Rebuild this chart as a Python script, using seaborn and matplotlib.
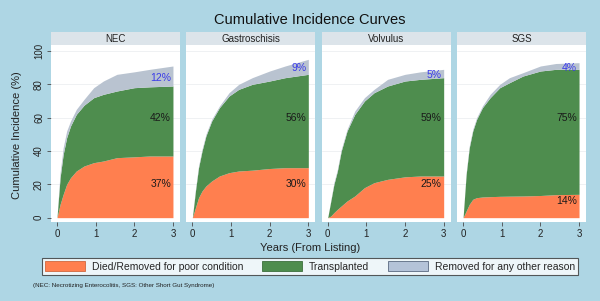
import matplotlib
matplotlib.use("Agg")
import matplotlib.pyplot as plt
from matplotlib.patches import Patch, Rectangle
import pandas as pd
import seaborn as sns

# Data (cumulative incidence, %)
GROUPS = ["NEC", "Gastroschisis", "Volvulus", "SGS"]
YEARS = [0, 0.08, 0.16, 0.25, 0.35, 0.5, 0.7, 0.95, 1.2, 1.55, 2.0, 2.4, 3.0]

# stacked boundaries: died, died + transplanted, any event
NEC_DIED = [0, 8, 14, 20, 24, 28, 31, 33, 34, 36, 36.5, 37, 37]
NEC_DIED_TX = [0, 24, 38, 48, 55, 62, 67.5, 72, 74, 76, 78, 78.5, 79]
NEC_ALL = [0, 27, 42, 52, 58, 65, 71, 78, 82, 86, 87.5, 89, 91]

GAS_DIED = [0, 6, 12, 16, 19, 22, 25, 27, 28, 28.5, 29.5, 30, 30]
GAS_DIED_TX = [0, 16, 30, 40, 49, 58, 66, 73, 77, 80, 82, 84, 86]
GAS_ALL = [0, 17, 31, 41, 50, 59, 67, 75, 80, 84, 88, 91, 95]

VOL_DIED = [0, 1, 3, 5, 7, 10, 13, 18, 21, 23, 24.5, 25, 25]
VOL_DIED_TX = [0, 10, 20, 28, 40, 52, 62, 70, 75, 79, 82, 83, 84]
VOL_ALL = [0, 10.5, 21, 29, 41, 53, 64, 72, 77, 83, 86, 87.5, 89]

SGS_DIED = [0, 4, 8, 11, 12, 12.4, 12.6, 12.8, 12.9, 13, 13.3, 13.8, 14]
SGS_DIED_TX = [0, 26, 42, 52, 59, 66, 72, 78, 81, 85, 88, 89, 89]
SGS_ALL = [0, 27, 43, 53, 60, 67, 74, 80, 84, 87, 91, 92.5, 93]

# percentages printed at 3 years
PCT_DIED = [37, 30, 25, 14]
PCT_TX = [42, 56, 59, 75]
PCT_OTHER = [12, 9, 5, 4]

LEGEND_LABELS = ["Died/Removed for poor condition", "Transplanted",
                 "Removed for any other reason"]

# Colours
BG = "#AED6E4"
HEADER = "#DCE4EA"
ORANGE = "#FF7F4F"
GREEN = "#4E8D4E"
GREY = "#B9C3D0"
BLUE_TXT = "#3A3AE8"

W, H = 600, 301


def stack(data, **kws):
    ax = plt.gca()
    t = data["years"]
    ax.fill_between(t, 0, data["died"], color=ORANGE, lw=0, zorder=3)
    ax.fill_between(t, data["died"], data["died_tx"], color=GREEN, lw=0, zorder=3)
    ax.fill_between(t, data["died_tx"], data["all"], color=GREY, lw=0, zorder=3)


def main():
    sns.set_theme(style="white")
    plt.rcParams["font.family"] = ["Liberation Sans", "DejaVu Sans"]

    series = [(NEC_DIED, NEC_DIED_TX, NEC_ALL),
              (GAS_DIED, GAS_DIED_TX, GAS_ALL),
              (VOL_DIED, VOL_DIED_TX, VOL_ALL),
              (SGS_DIED, SGS_DIED_TX, SGS_ALL)]
    rows = []
    for name, (d, dt, a) in zip(GROUPS, series):
        for i, t in enumerate(YEARS):
            rows.append({"group": name, "years": t, "died": d[i],
                         "died_tx": dt[i], "all": a[i]})
    df = pd.DataFrame(rows)

    g = sns.FacetGrid(df, col="group", col_order=GROUPS, sharey=True,
                      despine=False, height=2.2, aspect=0.7)
    g.map_dataframe(stack)
    g.set_titles("")
    g.set_axis_labels("", "")

    fig = g.figure
    fig.set_size_inches(W / 100, H / 100)
    fig.subplots_adjust(left=51 / W, right=586 / W, top=1 - 45 / H,
                        bottom=1 - 222 / H, wspace=0.05)
    fig.set_facecolor(BG)

    ax_h = 177  # axes height in px
    for i, ax in enumerate(g.axes.flat):
        ax.set_facecolor("white")
        ax.set_xlim(-0.155, 3.18)
        ax.set_ylim(-2.6, 103.6)
        ax.set_xticks([0, 1, 2, 3])
        ax.set_yticks([0, 20, 40, 60, 80, 100])
        for y in [20, 40, 60, 80, 100]:
            ax.axhline(y, color="#EDEFF1", lw=0.6, zorder=1)
        for s in ax.spines.values():
            s.set_visible(False)
        ax.tick_params(axis="both", length=3, width=0.6, color="#4a4a4a",
                       labelsize=7, pad=2, labelcolor="#222222",
                       bottom=True, left=(i == 0))
        if i == 0:
            for lab in ax.get_yticklabels():
                lab.set_rotation(90)
                lab.set_va("center")
        ax.add_patch(Rectangle((0, 1.0), 1, 13 / ax_h, transform=ax.transAxes,
                               facecolor=HEADER, edgecolor="none", clip_on=False))
        ax.text(0.5, 1 + 6.5 / ax_h, GROUPS[i], transform=ax.transAxes,
                ha="center", va="center", fontsize=7, color="#222222")

        died, tx, oth = PCT_DIED[i], PCT_TX[i], PCT_OTHER[i]
        top_tx = died + tx
        y_died = 20 if died > 20 else died - 4
        ax.text(2.95, y_died, f"{died}%", ha="right", va="center",
                fontsize=7.5, color="#1a1a1a", zorder=5)
        ax.text(2.95, 60, f"{tx}%", ha="right", va="center",
                fontsize=7.5, color="#1a1a1a", zorder=5)
        ax.text(2.95, top_tx + oth / 2 - 1, f"{oth}%", ha="right", va="center",
                fontsize=7.5, color=BLUE_TXT, zorder=5)

    fig.text(310 / W, 1 - 20 / H, "Cumulative Incidence Curves",
             ha="center", va="center", fontsize=10.5, color="#111111")
    fig.text(17 / W, 1 - 135 / H, "Cumulative Incidence (%)", rotation=90,
             ha="center", va="center", fontsize=8, color="#222222")
    fig.text(310 / W, 1 - 248 / H, "Years (From Listing)",
             ha="center", va="center", fontsize=8, color="#222222")
    fig.text(33 / W, 1 - 285 / H,
             "(NEC: Necrotizing Enterocolitis, SGS: Other Short Gut Syndrome)",
             ha="left", va="center", fontsize=4.5, color="#222222")

    handles = [Patch(facecolor=ORANGE, edgecolor="#d0683f", lw=0.6),
               Patch(facecolor=GREEN, edgecolor="#3d6f3d", lw=0.6),
               Patch(facecolor="#B4C3D8", edgecolor="#5a6a80", lw=0.6)]
    leg = fig.legend(handles, LEGEND_LABELS, loc="center",
                     bbox_to_anchor=(310 / W, 1 - 266.5 / H), ncol=3,
                     frameon=True, fancybox=False, fontsize=7.5,
                     handlelength=3.85, handleheight=1.0, handletextpad=0.6,
                     columnspacing=1.85, borderpad=0.35)
    leg.get_frame().set_edgecolor("#333333")
    leg.get_frame().set_linewidth(0.8)
    leg.get_frame().set_facecolor("white")

    fig.savefig("out.png", dpi=100, facecolor=BG)


if __name__ == "__main__":
    main()
